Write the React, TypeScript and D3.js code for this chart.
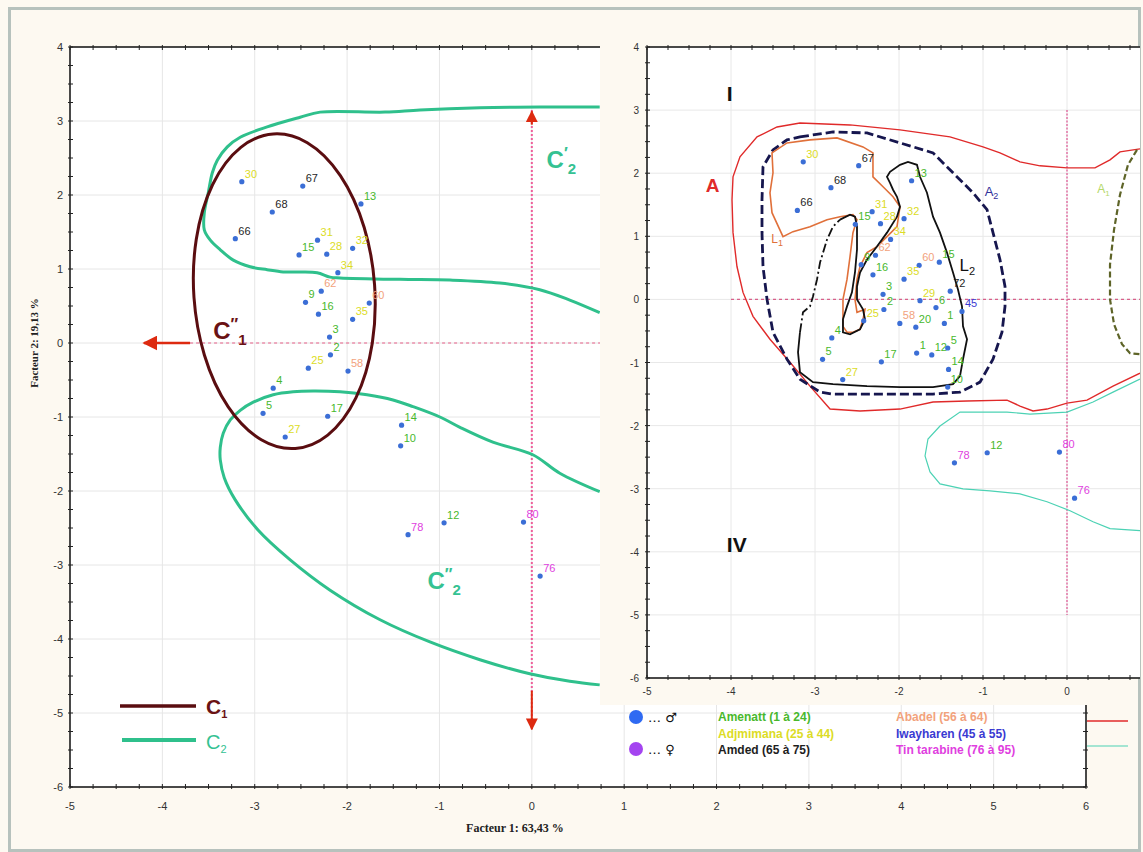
import React from "react";
import * as d3 from "d3";

// ---- population groups (individual numbers) ----
const GROUP_NAMES = ["Amenatt", "Adjmimana", "Iwayharen", "Abadel", "Amded", "Tin tarabine"];
const GROUP_FIRST = [1, 25, 45, 56, 65, 76];
const GROUP_LAST = [24, 44, 55, 64, 75, 95];
const GROUP_COLORS = ["#48b82c", "#dcdc26", "#3a3ad2", "#f2a27c", "#1e1e1e", "#e03ee0"];
const LEGEND_ORDER = [0, 1, 4, 3, 2, 5];

// ---- factorial coordinates of the individuals ----
const MAIN_IDS = [30, 67, 68, 66, 13, 31, 28, 32, 15, 34, 62, 9, 60, 16, 35, 3, 2, 25, 58, 4, 5, 17, 27, 14, 10, 78, 12, 80, 76];
const MAIN_F1 = [-3.14, -2.48, -2.81, -3.21, -1.85, -2.32, -2.22, -1.94, -2.52, -2.1, -2.28, -2.45, -1.76, -2.31, -1.94, -2.19, -2.18, -2.42, -1.99, -2.8, -2.91, -2.21, -2.67, -1.41, -1.42, -1.34, -0.95, -0.09, 0.09];
const MAIN_F2 = [2.18, 2.12, 1.77, 1.41, 1.88, 1.39, 1.2, 1.28, 1.19, 0.95, 0.7, 0.55, 0.54, 0.39, 0.32, 0.08, -0.16, -0.34, -0.38, -0.61, -0.95, -0.99, -1.27, -1.11, -1.39, -2.59, -2.43, -2.42, -3.15];
// extra individuals shown only on the full map
const EXTRA_IDS = [15, 72, 29, 6, 45, 1, 20, 1, 12, 5];
const EXTRA_F1 = [-1.52, -1.39, -1.75, -1.56, -1.25, -1.46, -1.8, -1.79, -1.61, -1.42];
const EXTRA_F2 = [0.59, 0.13, -0.02, -0.13, -0.19, -0.38, -0.44, -0.85, -0.88, -0.77];

// ---- axes ----
const MAIN_X_TICKS = [-5, -4, -3, -2, -1, 0, 1, 2, 3, 4, 5, 6];
const MAIN_Y_TICKS = [4, 3, 2, 1, 0, -1, -2, -3, -4, -5, -6];
const INSET_X_TICKS = [-5, -4, -3, -2, -1, 0];
const INSET_Y_TICKS = [4, 3, 2, 1, 0, -1, -2, -3, -4, -5, -6];

// ---- classes drawn on the main map ----
const C1_CENTER: [number, number] = [-2.68, 0.7];
const C1_RADII: [number, number] = [0.98, 2.13];
const C2_UPPER: [number, number][] = [
  [0.735, 3.19], [0.086, 3.19], [-0.562, 3.18], [-1.211, 3.15], [-1.589, 3.12], [-2.292, 3.12],
  [-2.508, 3.05], [-2.865, 2.92], [-3.157, 2.78], [-3.297, 2.65], [-3.405, 2.47], [-3.459, 2.3],
  [-3.503, 2.03], [-3.546, 1.76], [-3.546, 1.53], [-3.481, 1.39], [-3.373, 1.26], [-3.232, 1.12],
  [-3.049, 1.03], [-2.865, 0.99], [-2.692, 0.96], [-2.508, 0.96], [-2.324, 0.95], [-2.184, 0.89],
  [-2.076, 0.88], [-1.427, 0.86], [-0.886, 0.85], [-0.346, 0.81], [0.086, 0.72], [0.411, 0.58], [0.735, 0.41],
];
const C2_LOWER: [number, number][] = [
  [0.735, -2.01], [0.303, -1.76], [0.011, -1.51], [-0.422, -1.34], [-0.778, -1.14], [-0.995, -1.0],
  [-1.286, -0.86], [-1.503, -0.77], [-1.784, -0.7], [-2.076, -0.66], [-2.368, -0.65], [-2.584, -0.66],
  [-2.8, -0.7], [-3.016, -0.8], [-3.157, -0.91], [-3.265, -1.04], [-3.341, -1.22], [-3.373, -1.41],
  [-3.373, -1.58], [-3.33, -1.82], [-3.211, -2.12], [-2.962, -2.53], [-2.616, -2.93], [-2.184, -3.34],
  [-1.643, -3.74], [-1.103, -4.04], [-0.562, -4.28], [-0.022, -4.47], [0.411, -4.57], [0.735, -4.62],
];

// ---- contours of the full map ----
const CONTOUR_A: [number, number][] = [
  [0.869, 2.385], [0.631, 2.338], [0.512, 2.212], [0.333, 2.085], [0, 2.085], [-0.321, 2.117],
  [-0.56, 2.18], [-0.798, 2.322], [-1.0, 2.417], [-1.393, 2.575], [-1.988, 2.686], [-2.583, 2.765],
  [-3.179, 2.796], [-3.452, 2.733], [-3.69, 2.575], [-3.893, 2.259], [-3.976, 1.943], [-3.988, 1.58],
  [-3.976, 1.058], [-3.929, 0.521], [-3.857, 0.111], [-3.738, -0.269], [-3.536, -0.632], [-3.298, -0.995],
  [-3.06, -1.374], [-2.821, -1.738], [-2.464, -1.769], [-1.988, -1.738], [-1.595, -1.627], [-1.19, -1.611],
  [-0.714, -1.596], [-0.56, -1.69], [-0.405, -1.769], [-0.238, -1.738], [0, -1.643], [0.238, -1.596],
  [0.548, -1.374], [0.869, -1.169],
];
const CONTOUR_A2: [number, number][] = [
  [-3.179, 2.575], [-2.786, 2.654], [-2.381, 2.638], [-1.988, 2.48], [-1.595, 2.322], [-1.357, 2.006],
  [-1.119, 1.69], [-0.952, 1.422], [-0.881, 1.058], [-0.798, 0.632], [-0.738, 0.205], [-0.738, -0.111],
  [-0.774, -0.521], [-0.881, -0.948], [-1.036, -1.311], [-1.274, -1.469], [-1.595, -1.501], [-1.988, -1.501],
  [-2.381, -1.501], [-2.786, -1.501], [-2.94, -1.469], [-3.179, -1.264], [-3.333, -0.948], [-3.5, -0.521],
  [-3.571, 0], [-3.619, 0.521], [-3.631, 1.058], [-3.631, 1.58], [-3.619, 2.101], [-3.5, 2.37], [-3.333, 2.528],
];
const CONTOUR_L1: [number, number][] = [
  [-3.381, 0.995], [-3.512, 1.374], [-3.536, 1.69], [-3.5, 2.006], [-3.512, 2.322], [-3.333, 2.48],
  [-3.06, 2.528], [-2.738, 2.559], [-2.429, 2.417], [-2.31, 2.322], [-2.31, 1.943], [-2.19, 1.785],
  [-2.071, 1.627], [-1.988, 1.469], [-2.024, 1.153], [-2.143, 0.995], [-2.262, 0.837], [-2.381, 0.742],
  [-2.464, 0.521], [-2.5, 0.316], [-2.524, 0], [-2.5, -0.205], [-2.405, -0.158], [-2.429, -0.316],
  [-2.464, -0.474], [-2.548, -0.521], [-2.619, -0.521], [-2.667, -0.427], [-2.667, 0], [-2.619, 0.316],
  [-2.583, 0.679], [-2.548, 1.058], [-2.5, 1.264], [-2.548, 1.343], [-2.702, 1.311], [-2.857, 1.264],
  [-3.06, 1.153], [-3.262, 1.074],
];
const CONTOUR_L2_SOLID: [number, number][] = [
  [-2.702, 1.264], [-2.583, 1.343], [-2.524, 1.311], [-2.5, 1.153], [-2.5, 0.79], [-2.524, 0.427],
  [-2.56, 0.111], [-2.619, -0.111], [-2.667, -0.316], [-2.667, -0.521], [-2.583, -0.553], [-2.464, -0.474],
  [-2.405, -0.316], [-2.429, -0.158], [-2.5, 0], [-2.5, 0.205], [-2.464, 0.427], [-2.381, 0.632],
  [-2.262, 0.837], [-2.143, 1.058], [-2.024, 1.311], [-1.988, 1.469], [-2.024, 1.627], [-2.071, 1.738],
  [-2.107, 1.848], [-2.143, 1.943], [-2.107, 2.022], [-1.988, 2.133], [-1.893, 2.18], [-1.786, 2.133],
  [-1.75, 1.943], [-1.667, 1.69], [-1.595, 1.311], [-1.512, 1.058], [-1.429, 0.742], [-1.357, 0.427],
  [-1.298, 0.158], [-1.25, -0.111], [-1.238, -0.427], [-1.19, -0.632], [-1.238, -0.948], [-1.274, -1.216],
  [-1.357, -1.343], [-1.595, -1.39], [-1.988, -1.39], [-2.381, -1.374], [-2.786, -1.343], [-3.024, -1.311],
  [-3.179, -1.153], [-3.202, -0.837], [-3.179, -0.521],
];
const CONTOUR_L2_DASHED: [number, number][] = [
  [-3.179, -0.521], [-3.143, -0.205], [-3.06, -0.111], [-3.024, 0.047], [-2.976, 0.316], [-2.94, 0.585],
  [-2.857, 0.948], [-2.786, 1.153], [-2.702, 1.264],
];
const CONTOUR_A1: [number, number][] = [
  [0.833, 2.37], [0.726, 2.133], [0.631, 1.659], [0.56, 1.106], [0.512, 0.553], [0.512, 0],
  [0.56, -0.395], [0.655, -0.711], [0.75, -0.853], [0.869, -0.869],
];
const CONTOUR_TIN: [number, number][] = [
  [0.869, -1.264], [0.548, -1.469], [0.31, -1.627], [0, -1.785], [-0.44, -1.817], [-0.714, -1.785],
  [-1.274, -1.785], [-1.512, -2.006], [-1.655, -2.212], [-1.69, -2.48], [-1.631, -2.733], [-1.512, -2.923],
  [-1.238, -3.002], [-0.917, -3.033], [-0.56, -3.081], [-0.238, -3.207], [0.036, -3.349], [0.31, -3.523],
  [0.512, -3.633], [0.869, -3.665],
];

const SANS = "'Liberation Sans', Arial, sans-serif";
const SERIF = "'Liberation Serif', 'Times New Roman', serif";

const groupOf = (id: number) => GROUP_FIRST.findIndex((f, i) => id >= f && id <= GROUP_LAST[i]);

type Scale = d3.ScaleLinear<number, number>;

function Points({ ids, f1, f2, xs, ys }: { ids: number[]; f1: number[]; f2: number[]; xs: Scale; ys: Scale }) {
  return (
    <g>
      {ids.map((id, i) => {
        const g = groupOf(id);
        return (
          <g key={i}>
            <circle cx={xs(f1[i])} cy={ys(f2[i])} r={2.6} fill="#3b6ed6" />
            <text x={xs(f1[i]) + 3} y={ys(f2[i]) - 4} fontSize={11} fontFamily={SANS} fill={GROUP_COLORS[g]}>
              {id}
            </text>
          </g>
        );
      })}
    </g>
  );
}

function minorTicks(from: number, to: number) {
  return d3.range(from, to + 1e-9, 0.25);
}

export default function App() {
  const xM = d3.scaleLinear().domain([-5, 6]).range([70, 1086]);
  const yM = d3.scaleLinear().domain([-6, 4]).range([787, 47]);
  const xI = d3.scaleLinear().domain([-5, 0]).range([647, 1067]);
  const yI = d3.scaleLinear().domain([-6, 4]).range([678, 47]);

  const lineM = d3.line<[number, number]>().x((d) => xM(d[0])).y((d) => yM(d[1])).curve(d3.curveCatmullRom);
  const lineI = d3.line<[number, number]>().x((d) => xI(d[0])).y((d) => yI(d[1]));
  const loopI = d3.line<[number, number]>().x((d) => xI(d[0])).y((d) => yI(d[1])).curve(d3.curveLinearClosed);

  const mx0 = xM(-5), mx1 = xM(6), my0 = yM(4), my1 = yM(-6);
  const ix0 = xI(-5), ix1 = 1140, iy0 = yI(4), iy1 = yI(-6);

  const c1 = [xM(C1_CENTER[0]), yM(C1_CENTER[1])];
  const c1r = [xM(C1_RADII[0]) - xM(0), yM(0) - yM(C1_RADII[1])];

  return (
    <svg width={1143} height={852} style={{ position: "absolute", left: 0, top: 0, display: "block" }}>
      <defs>
        <clipPath id="mainClip"><rect x={mx0} y={my0} width={mx1 - mx0} height={my1 - my0} /></clipPath>
        <clipPath id="insetClip"><rect x={ix0} y={iy0} width={ix1 - ix0} height={iy1 - iy0} /></clipPath>
        <marker id="arrowRed" viewBox="0 0 10 10" refX="9" refY="5" markerWidth="6" markerHeight="6" orient="auto">
          <path d="M0,0 L10,5 L0,10 z" fill="#dd2a10" />
        </marker>
      </defs>

      {/* page background and frame */}
      <rect x={0} y={0} width={1143} height={852} fill="#fdf9f1" />
      <rect x={9.5} y={8.5} width={1130} height={842} fill="none" stroke="#b7c2bd" strokeWidth={3} />

      {/* ================= main factorial map ================= */}
      <rect x={mx0} y={my0} width={mx1 - mx0} height={my1 - my0} fill="#ffffff" />
      <g stroke="#e6e6e6" strokeWidth={1}>
        {MAIN_X_TICKS.map((t) => <line key={"gx" + t} x1={xM(t)} x2={xM(t)} y1={my0} y2={my1} />)}
        {MAIN_Y_TICKS.map((t) => <line key={"gy" + t} x1={mx0} x2={mx1} y1={yM(t)} y2={yM(t)} />)}
      </g>

      <g clipPath="url(#mainClip)">
        {/* axis through the origin */}
        <line x1={xM(-3.7)} x2={xM(0.75)} y1={yM(0)} y2={yM(0)} stroke="#e8608a" strokeWidth={1.2} strokeDasharray="3,3" />
        <line x1={xM(0)} x2={xM(0)} y1={yM(3.15)} y2={yM(-5.2)} stroke="#ee5f9a" strokeWidth={2} strokeDasharray="2,2" />
        <line x1={xM(0)} x2={xM(0)} y1={yM(2.95)} y2={yM(3.13)} stroke="#dd2a10" strokeWidth={2} markerEnd="url(#arrowRed)" />
        <line x1={xM(0)} x2={xM(0)} y1={yM(-4.7)} y2={yM(-5.22)} stroke="#dd2a10" strokeWidth={2} markerEnd="url(#arrowRed)" />
        <line x1={xM(-3.7)} x2={xM(-4.2)} y1={yM(0)} y2={yM(0)} stroke="#dd2a10" strokeWidth={2.5} markerEnd="url(#arrowRed)" />

        {/* classes */}
        <path d={lineM(C2_UPPER) ?? ""} fill="none" stroke="#2fc08c" strokeWidth={3} />
        <path d={lineM(C2_LOWER) ?? ""} fill="none" stroke="#2fc08c" strokeWidth={3} />
        <ellipse cx={c1[0]} cy={c1[1]} rx={c1r[0]} ry={c1r[1]} transform={`rotate(-4 ${c1[0]} ${c1[1]})`}
          fill="none" stroke="#5a0d10" strokeWidth={3} />

        <Points ids={MAIN_IDS} f1={MAIN_F1} f2={MAIN_F2} xs={xM} ys={yM} />
      </g>

      {/* class labels */}
      <text x={xM(-3.45)} y={yM(0.05)} fontFamily={SANS} fontWeight="bold" fontSize={24} fill="#6a1214">
        C<tspan fontSize={16} dy={-9}>″</tspan><tspan fontSize={15} dy={15}>1</tspan>
      </text>
      <text x={xM(0.16)} y={yM(2.37)} fontFamily={SANS} fontWeight="bold" fontSize={24} fill="#35c292">
        C<tspan fontSize={16} dy={-9}>′</tspan><tspan fontSize={15} dy={15}>2</tspan>
      </text>
      <text x={xM(-1.13)} y={yM(-3.32)} fontFamily={SANS} fontWeight="bold" fontSize={24} fill="#35c292">
        C<tspan fontSize={16} dy={-9}>″</tspan><tspan fontSize={15} dy={15}>2</tspan>
      </text>

      {/* legend of the classes */}
      <line x1={120} x2={196} y1={706} y2={706} stroke="#5a0d10" strokeWidth={3.5} />
      <text x={206} y={714} fontFamily={SANS} fontWeight="bold" fontSize={21} fill="#6a1214">
        C<tspan fontSize={11} dy={4}>1</tspan>
      </text>
      <line x1={122} x2={196} y1={740} y2={740} stroke="#2fc08c" strokeWidth={4} />
      <text x={206} y={749} fontFamily={SANS} fontSize={20} fill="#35c292">
        C<tspan fontSize={11} dy={4}>2</tspan>
      </text>

      {/* main axes */}
      <g stroke="#111" strokeWidth={1.5}>
        <line x1={mx0} x2={mx1} y1={my1} y2={my1} />
        <line x1={mx0} x2={mx1} y1={my0} y2={my0} />
        <line x1={mx0} x2={mx0} y1={my0} y2={my1} />
        <line x1={mx1} x2={mx1} y1={my0} y2={my1} />
      </g>
      <g stroke="#222" strokeWidth={1}>
        {minorTicks(-5, 6).map((t) => <line key={"bx" + t} x1={xM(t)} x2={xM(t)} y1={my1 - 3} y2={my1 + 2} />)}
        {minorTicks(-5, 6).map((t) => <line key={"tx" + t} x1={xM(t)} x2={xM(t)} y1={my0 - 2} y2={my0 + 3} />)}
        {minorTicks(-6, 4).map((t) => <line key={"ly" + t} x1={mx0 - 2} x2={mx0 + 3} y1={yM(t)} y2={yM(t)} />)}
        {minorTicks(-6, 4).map((t) => <line key={"ry" + t} x1={mx1 - 3} x2={mx1 + 2} y1={yM(t)} y2={yM(t)} />)}
      </g>
      <g fontFamily={SANS} fontSize={11} fill="#333">
        {MAIN_X_TICKS.map((t) => (
          <text key={"lx" + t} x={xM(t)} y={my1 + 23} textAnchor="middle">{t}</text>
        ))}
        {MAIN_Y_TICKS.map((t) => (
          <text key={"lyt" + t} x={mx0 - 7} y={yM(t) + 4} textAnchor="end">{t}</text>
        ))}
      </g>
      <text x={515} y={832} textAnchor="middle" fontFamily={SERIF} fontWeight="bold" fontSize={12} fill="#222">
        Facteur 1: 63,43 %
      </text>
      <text transform={`translate(38,${yM(0)}) rotate(-90)`} textAnchor="middle" fontFamily={SERIF} fontWeight="bold" fontSize={11} fill="#222">
        Facteur 2: 19,13 %
      </text>

      {/* ================= full map (all individuals) ================= */}
      <rect x={600} y={10} width={538} height={695} fill="#fdf9f1" />
      <rect x={ix0} y={iy0} width={ix1 - ix0} height={iy1 - iy0} fill="#ffffff" />
      <g stroke="#e8e8e8" strokeWidth={1}>
        {INSET_X_TICKS.map((t) => <line key={"igx" + t} x1={xI(t)} x2={xI(t)} y1={iy0} y2={iy1} />)}
        {INSET_Y_TICKS.map((t) => <line key={"igy" + t} x1={ix0} x2={ix1} y1={yI(t)} y2={yI(t)} />)}
      </g>

      <g clipPath="url(#insetClip)">
        <line x1={xI(-4)} x2={ix1} y1={yI(0)} y2={yI(0)} stroke="#d8608a" strokeWidth={1.2} strokeDasharray="3,3" />
        <line x1={xI(0)} x2={xI(0)} y1={yI(3)} y2={yI(-5)} stroke="#e0609a" strokeWidth={1.3} strokeDasharray="2,1.5" />

        <path d={lineI(CONTOUR_A) ?? ""} fill="none" stroke="#e02a2a" strokeWidth={1.4} />
        <path d={lineI(CONTOUR_TIN) ?? ""} fill="none" stroke="#4cd2b4" strokeWidth={1.2} />
        <path d={lineI(CONTOUR_A1) ?? ""} fill="none" stroke="#5e6428" strokeWidth={2.2} strokeDasharray="6,3" />
        <path d={loopI(CONTOUR_A2) ?? ""} fill="none" stroke="#16164e" strokeWidth={2.8} strokeDasharray="9,4" />
        <path d={loopI(CONTOUR_L1) ?? ""} fill="none" stroke="#e0703a" strokeWidth={1.6} />
        <path d={lineI(CONTOUR_L2_SOLID) ?? ""} fill="none" stroke="#111" strokeWidth={1.8} />
        <path d={lineI(CONTOUR_L2_DASHED) ?? ""} fill="none" stroke="#111" strokeWidth={1.8} strokeDasharray="9,3,2,3" />

        <Points ids={MAIN_IDS} f1={MAIN_F1} f2={MAIN_F2} xs={xI} ys={yI} />
        <Points ids={EXTRA_IDS} f1={EXTRA_F1} f2={EXTRA_F2} xs={xI} ys={yI} />

        {/* zone and contour names */}
        <text x={xI(-4.05)} y={yI(3.15)} fontFamily={SANS} fontWeight="bold" fontSize={21} fill="#111">I</text>
        <text x={xI(-4.05)} y={yI(-4.0)} fontFamily={SANS} fontWeight="bold" fontSize={21} fill="#111">IV</text>
        <text x={xI(-4.3)} y={yI(1.7)} fontFamily={SANS} fontWeight="bold" fontSize={19} fill="#e02a2a">A</text>
        <text x={xI(-0.98)} y={yI(1.64)} fontFamily={SANS} fontSize={13} fill="#30309a">
          A<tspan fontSize={9} dy={3}>2</tspan>
        </text>
        <text x={xI(-3.52)} y={yI(0.9)} fontFamily={SANS} fontSize={12} fill="#e0703a">
          L<tspan fontSize={9} dy={3}>1</tspan>
        </text>
        <text x={xI(-1.28)} y={yI(0.45)} fontFamily={SANS} fontSize={17} fill="#111">
          L<tspan fontSize={11} dy={4}>2</tspan>
        </text>
        <text x={xI(0.36)} y={yI(1.68)} fontFamily={SANS} fontSize={12} fill="#b4d86a">
          A<tspan fontSize={8} dy={3}>1</tspan>
        </text>
      </g>

      <g stroke="#111" strokeWidth={1.5}>
        <line x1={ix0} x2={ix1} y1={iy0} y2={iy0} />
        <line x1={ix0} x2={ix1} y1={iy1} y2={iy1} />
        <line x1={ix0} x2={ix0} y1={iy0} y2={iy1} />
      </g>
      <g stroke="#222" strokeWidth={1}>
        {minorTicks(-5, 0.75).map((t) => <line key={"ibx" + t} x1={xI(t)} x2={xI(t)} y1={iy1 - 3} y2={iy1 + 2} />)}
        {minorTicks(-5, 0.75).map((t) => <line key={"itx" + t} x1={xI(t)} x2={xI(t)} y1={iy0 - 2} y2={iy0 + 3} />)}
        {minorTicks(-6, 4).map((t) => <line key={"ily" + t} x1={ix0 - 2} x2={ix0 + 3} y1={yI(t)} y2={yI(t)} />)}
      </g>
      <g fontFamily={SANS} fontSize={10} fill="#333">
        {INSET_X_TICKS.map((t) => (
          <text key={"ilx" + t} x={xI(t)} y={iy1 + 17} textAnchor="middle">{t}</text>
        ))}
        {INSET_Y_TICKS.map((t) => (
          <text key={"ilyt" + t} x={ix0 - 8} y={yI(t) + 4} textAnchor="end">{t}</text>
        ))}
      </g>

      {/* legend of the full map */}
      <circle cx={636} cy={717} r={7} fill="#2f6af2" />
      <circle cx={636} cy={749} r={7} fill="#a444f0" />
      <text x={648} y={722} fontFamily="'DejaVu Sans', sans-serif" fontSize={13} fill="#111">… ♂</text>
      <text x={648} y={754} fontFamily="'DejaVu Sans', sans-serif" fontSize={13} fill="#111">… ♀</text>
      <g fontFamily={SANS} fontWeight="bold" fontSize={12}>
        {LEGEND_ORDER.map((g, k) => (
          <text key={"lg" + g} x={k < 3 ? 718 : 896} y={721 + (k % 3) * 16.5} fill={GROUP_COLORS[g]}>
            {`${GROUP_NAMES[g]} (${GROUP_FIRST[g]} à ${GROUP_LAST[g]})`}
          </text>
        ))}
      </g>
      <line x1={1087} x2={1128} y1={721} y2={721} stroke="#e02a2a" strokeWidth={1.5} />
      <line x1={1087} x2={1128} y1={746} y2={746} stroke="#4cd2b4" strokeWidth={1.2} />
    </svg>
  );
}
